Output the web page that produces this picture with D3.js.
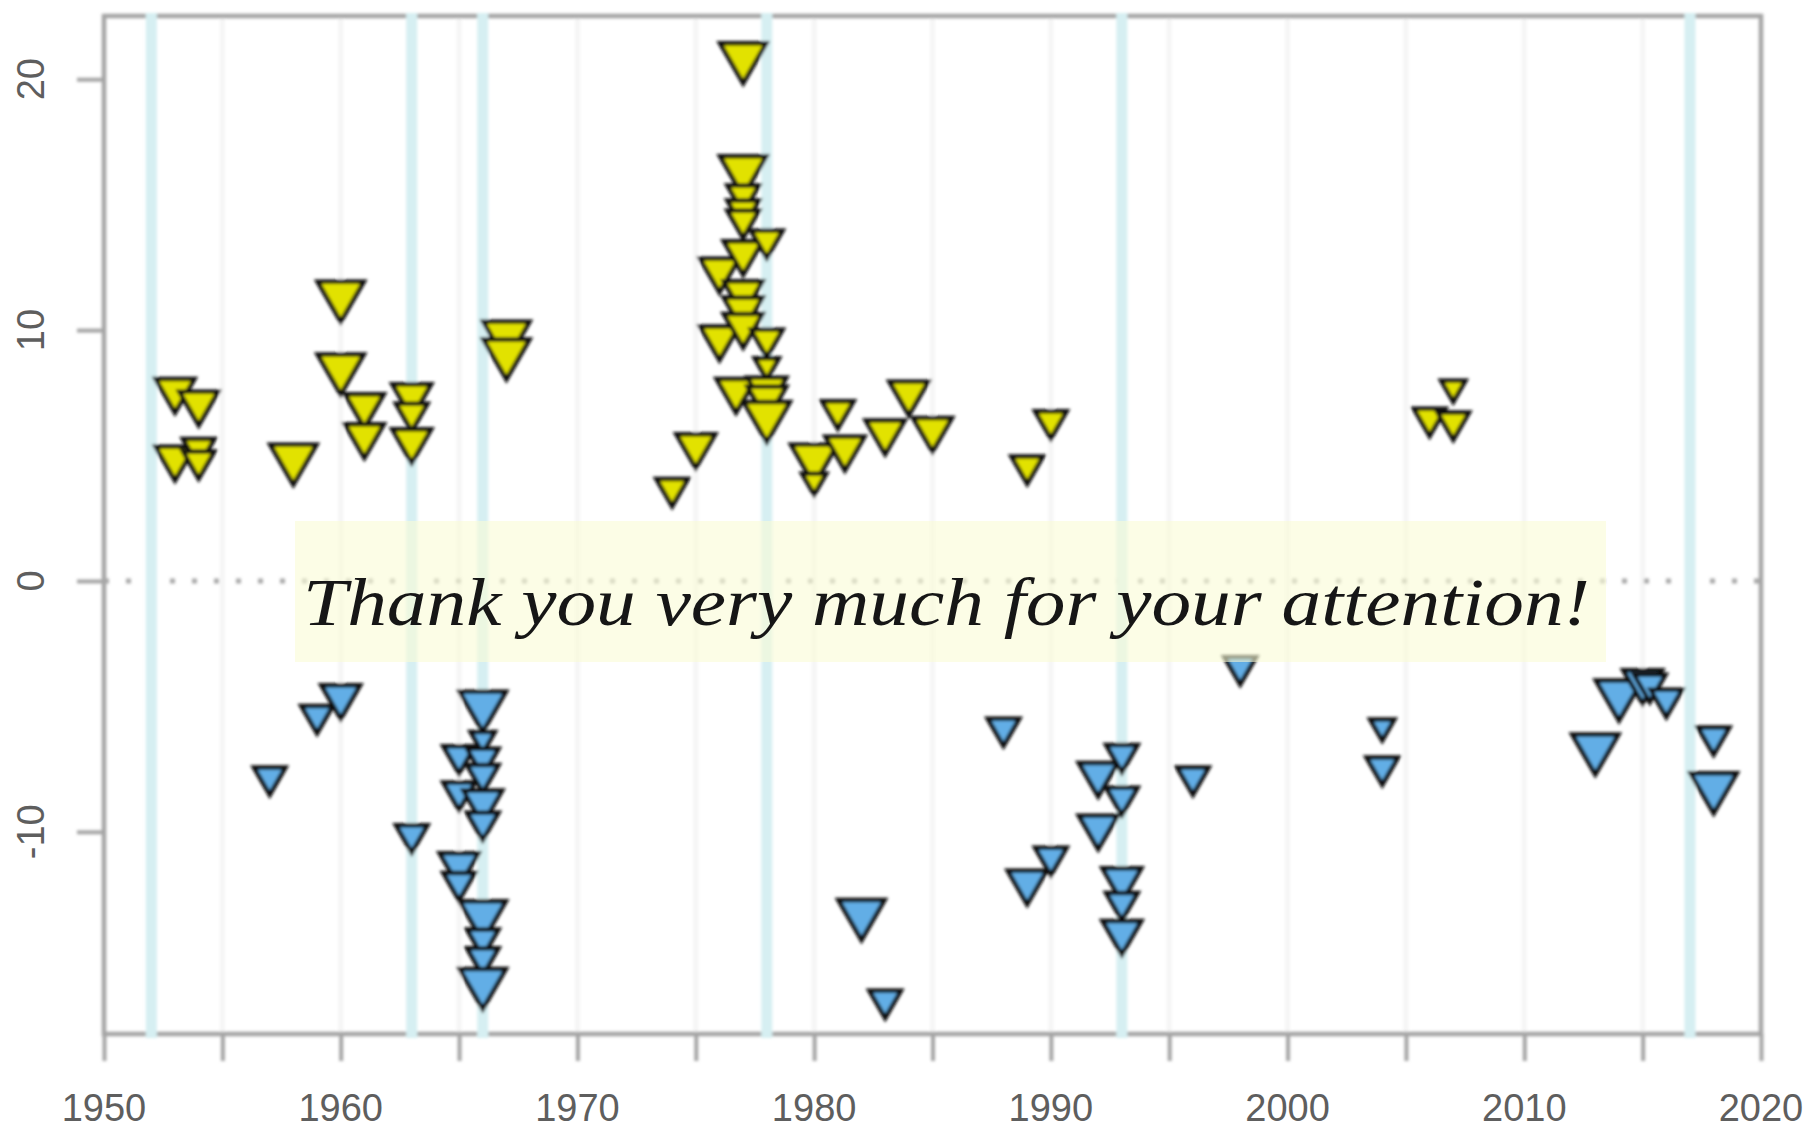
<!DOCTYPE html>
<meta charset="utf-8">
<title>Anomalies by year</title>
<style>

body {
  margin: 0;
  background: #fff;
}

svg {
  display: block;
}

.axis text {
  font-family: "Liberation Sans", Arial, sans-serif;
  font-size: 38px;
  fill: #5e5e5e;
}

.axis line {
  stroke: #a4a4a4;
  stroke-width: 4;
}

.note {
  font-family: "Liberation Serif", "DejaVu Serif", serif;
  font-style: italic;
  font-size: 68px;
  fill: #161616;
}

</style>
<svg width="1812" height="1131"></svg>
<script src="https://d3js.org/d3.v7.min.js"></script>
<script>
// one entry per event: year, anomaly value, size class (1 = smallest, 4 = largest)
var years = [
  1953, 1954, 1953, 1954, 1954, 1958, 1960, 1960, 1961, 1961,
  1963, 1963, 1963, 1967, 1967, 1974, 1975, 1976, 1976, 1976.7,
  1977, 1977, 1977, 1977, 1977, 1977, 1977, 1977, 1977, 1978,
  1978, 1978, 1978, 1978, 1978, 1980, 1980, 1981, 1981.3, 1983,
  1984, 1985, 1989, 1990, 2006, 2007, 2007,
  1957, 1959, 1960, 1963, 1965, 1965, 1965, 1965, 1966, 1966,
  1966, 1966, 1966, 1966, 1966, 1966, 1966, 1966, 1982, 1983,
  1988, 1989, 1990, 1992, 1992, 1993, 1993, 1993, 1993, 1993,
  1996, 1998, 2004, 2004, 2013, 2014, 2015, 2015.3, 2016, 2018,
  2018
];
var values = [
  7.6, 7.1, 4.9, 5.3, 4.8, 4.9, 11.4, 8.5, 7.0, 5.8,
  7.4, 6.7, 5.6, 9.8, 9.1, 3.7, 5.4, 12.4, 9.7, 7.6,
  20.9, 16.4, 15.4, 14.8, 14.4, 13.1, 11.5, 10.85, 10.2, 13.6,
  9.65, 8.6, 7.65, 7.3, 6.6, 4.9, 4.0, 6.8, 5.3, 5.95,
  7.5, 6.05, 4.6, 6.4, 6.5, 7.7, 6.35,
  -7.8, -5.35, -4.6, -10.1, -6.95, -8.4, -11.3, -12.0, -4.95, -6.3,
  -7.05, -7.7, -8.8, -9.6, -13.3, -14.25, -15.0, -16.0, -13.25, -16.7,
  -5.85, -12.0, -11.0, -7.7, -9.8, -6.9, -8.6, -11.9, -12.8, -14.0,
  -7.8, -3.4, -5.8, -7.4, -6.65, -4.5, -4.0, -4.1, -4.7, -6.2,
  -8.2
];
var sizeClass = [
  3, 3, 3, 2, 2, 4, 4, 4, 3, 3,
  3, 2, 3, 4, 4, 2, 3, 3, 3, 3,
  4, 4, 2, 2, 2, 3, 3, 3, 3, 2,
  2, 1, 3, 3, 4, 4, 1, 2, 3, 3,
  3, 3, 2, 2, 2, 1, 2,
  2, 2, 3, 2, 2, 2, 3, 2, 4, 1,
  2, 2, 3, 2, 4, 2, 2, 4, 4, 2,
  2, 3, 2, 3, 3, 2, 2, 3, 2, 3,
  2, 2, 1, 2, 4, 4, 3, 2, 2, 2,
  4
];

// years marked with a vertical band
var eventYears = [1952, 1963, 1966, 1978, 1993, 2017];

var xTickYears = d3.range(1950, 2021, 5);
var yTickValues = [-10, 0, 10, 20];
var note = "Thank you very much for your attention!";

var points = years.map(function(d, i) {
  return {year: d, value: values[i], size: sizeClass[i]};
});

var svg = d3.select("svg");

var x = d3.scaleLinear()
    .domain([1950, 2020])
    .range([104, 1761]);

var y = d3.scaleLinear()
    .domain([-18.06, 22.52])
    .range([1034, 16]);

// size class -> triangle side in px
var side = d3.scaleLinear()
    .domain([1, 4])
    .range([24, 46]);

var blur = svg.append("defs").append("filter")
    .attr("id", "soft")
    .attr("x", "-5%").attr("y", "-5%")
    .attr("width", "110%").attr("height", "110%");
blur.append("feGaussianBlur").attr("stdDeviation", 1.5);

var plot = svg.append("g").attr("filter", "url(#soft)");

// faint grid every 5 years
plot.append("g")
  .selectAll("line")
  .data(xTickYears.slice(1, -1))
  .enter().append("line")
    .attr("x1", x).attr("x2", x)
    .attr("y1", y.range()[1]).attr("y2", y.range()[0])
    .attr("stroke", "#f5f5f5")
    .attr("stroke-width", 5);

// axes
var xAxis = plot.append("g")
    .attr("class", "axis")
    .attr("transform", "translate(0," + y.range()[0] + ")")
    .call(d3.axisBottom(x)
      .tickValues(xTickYears)
      .tickSize(27)
      .tickPadding(32)
      .tickFormat(function(d) { return d % 10 === 0 ? d : ""; }));
xAxis.select(".domain").remove();
xAxis.selectAll("text").remove();

var yAxis = plot.append("g")
    .attr("class", "axis")
    .attr("transform", "translate(" + x.range()[0] + ",0)")
    .call(d3.axisLeft(y)
      .tickValues(yTickValues)
      .tickSize(27));
yAxis.select(".domain").remove();
yAxis.selectAll("text").remove();

// box round the plot
plot.append("rect")
    .attr("x", x.range()[0])
    .attr("y", y.range()[1])
    .attr("width", x.range()[1] - x.range()[0])
    .attr("height", y.range()[0] - y.range()[1])
    .attr("fill", "none")
    .attr("stroke", "#a4a4a4")
    .attr("stroke-width", 4.5);

// dotted zero line
plot.append("line")
    .attr("x1", x.range()[0]).attr("x2", x.range()[1])
    .attr("y1", y(0)).attr("y2", y(0))
    .attr("stroke", "#a8a8a8")
    .attr("stroke-width", 5)
    .attr("stroke-dasharray", "5,17");

// event year bands
plot.append("g")
  .selectAll("line")
  .data(eventYears)
  .enter().append("line")
    .attr("x1", x).attr("x2", x)
    .attr("y1", y.range()[1] - 3).attr("y2", y.range()[0] + 4)
    .attr("stroke", "#d6eff2")
    .attr("stroke-width", 11);

// down-pointing triangles
var symbol = d3.symbol().type(d3.symbolTriangle)
    .size(function(d) { var s = side(d.size); return Math.sqrt(3) / 4 * s * s; });

plot.append("g")
  .selectAll("path")
  .data(points)
  .enter().append("path")
    .attr("transform", function(d) { return "translate(" + x(d.year) + "," + y(d.value) + ") rotate(180)"; })
    .attr("d", symbol)
    .attr("fill", function(d) { return d.value > 0 ? "#e2e200" : "#62aee6"; })
    .attr("stroke", "#0d0d0d")
    .attr("stroke-width", 4.5)
    .attr("stroke-linejoin", "miter");

// tick labels (kept sharp)
var labels = svg.append("g").attr("class", "axis");

labels.selectAll(".xlab")
  .data(xTickYears.filter(function(d) { return d % 10 === 0; }))
  .enter().append("text")
    .attr("class", "xlab")
    .attr("x", x)
    .attr("y", 1121)
    .attr("text-anchor", "middle")
    .text(function(d) { return d; });

labels.selectAll(".ylab")
  .data(yTickValues)
  .enter().append("text")
    .attr("class", "ylab")
    .attr("transform", function(d) { return "translate(44," + y(d) + ") rotate(-90)"; })
    .attr("text-anchor", "middle")
    .text(function(d) { return d; });

// closing note
svg.append("rect")
    .attr("x", 295)
    .attr("y", 521)
    .attr("width", 1311)
    .attr("height", 141)
    .attr("fill", "#fafcd6")
    .attr("fill-opacity", 0.6);

svg.append("text")
    .attr("class", "note")
    .attr("x", 303)
    .attr("y", 625)
    .attr("textLength", 1287)
    .attr("lengthAdjust", "spacingAndGlyphs")
    .text(note);

</script>
